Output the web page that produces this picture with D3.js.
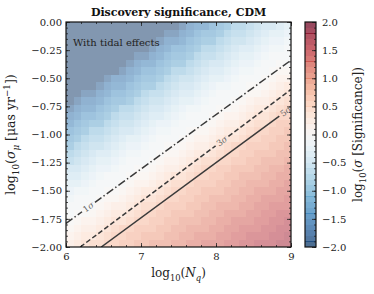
<!DOCTYPE html>
<html>
<head>
<meta charset="utf-8">
<script src="https://cdn.jsdelivr.net/npm/d3@7"></script>
<style>
  body { margin: 0; background: #fff; }
  svg { display: block; font-family: "DejaVu Serif", serif; }
</style>
</head>
<body>
<svg id="chart" width="374" height="294"></svg>
<script>
  // axes
  const nqExtent = [6, 9];
  const sigmaMuExtent = [-2, 0];
  const xTicks = [6, 7, 8, 9];
  const yTicks = [0, -0.25, -0.5, -0.75, -1, -1.25, -1.5, -1.75, -2];
  const cbarTicks = [2, 1.5, 1, 0.5, 0, -0.5, -1, -1.5, -2];
  const cbarExtent = [-2, 2];

  // log10(significance) on a 30 x 30 grid, top row (sigma_mu near 0) first,
  // columns from log10(Nq) = 6 to 9
  const significanceRows = [
    [-4.4,-4.1,-3.9,-3.6,-3.4,-3.4,-3.2,-3.0,-2.8,-2.8, -2.5,-2.4,-2.2,-2.0,-2.0,-1.8,-1.6,-1.5,-1.5,-1.3, -1.2,-1.1,-0.9,-0.9,-0.8,-0.7,-0.6,-0.6,-0.5,-0.4],
    [-4.1,-3.9,-3.6,-3.4,-3.2,-3.2,-3.0,-2.8,-2.5,-2.5, -2.4,-2.2,-2.0,-1.8,-1.8,-1.6,-1.5,-1.3,-1.2,-1.2, -1.1,-0.9,-0.8,-0.8,-0.7,-0.6,-0.5,-0.4,-0.4,-0.3],
    [-3.6,-3.6,-3.4,-3.2,-3.0,-3.0,-2.8,-2.5,-2.4,-2.2, -2.2,-2.0,-1.8,-1.6,-1.6,-1.5,-1.3,-1.2,-1.1,-1.1, -0.9,-0.8,-0.7,-0.7,-0.6,-0.5,-0.4,-0.3,-0.3,-0.2],
    [-3.4,-3.4,-3.2,-3.0,-2.8,-2.8,-2.5,-2.4,-2.2,-2.0, -2.0,-1.8,-1.6,-1.5,-1.3,-1.3,-1.2,-1.1,-0.9,-0.9, -0.8,-0.7,-0.6,-0.5,-0.5,-0.4,-0.3,-0.2,-0.2,-0.1],
    [-3.2,-3.2,-3.0,-2.8,-2.5,-2.4,-2.4,-2.2,-2.0,-1.8, -1.8,-1.6,-1.5,-1.3,-1.2,-1.2,-1.1,-0.9,-0.8,-0.8, -0.7,-0.6,-0.5,-0.4,-0.4,-0.3,-0.2,-0.1,-0.1,-0.1],
    [-3.0,-3.0,-2.8,-2.5,-2.4,-2.2,-2.2,-2.0,-1.8,-1.6, -1.5,-1.5,-1.3,-1.2,-1.1,-1.1,-0.9,-0.8,-0.7,-0.6, -0.6,-0.5,-0.4,-0.3,-0.3,-0.2,-0.1,-0.1, 0.0, 0.0],
    [-2.8,-2.5,-2.5,-2.4,-2.2,-2.0,-2.0,-1.8,-1.6,-1.5, -1.3,-1.3,-1.2,-1.1,-0.9,-0.9,-0.8,-0.7,-0.6,-0.5, -0.5,-0.4,-0.3,-0.2,-0.2,-0.1,-0.1, 0.0, 0.1, 0.1],
    [-2.5,-2.4,-2.4,-2.2,-2.0,-1.8,-1.6,-1.6,-1.5,-1.3, -1.2,-1.2,-1.1,-0.9,-0.8,-0.7,-0.7,-0.6,-0.5,-0.4, -0.4,-0.3,-0.2,-0.1,-0.1,-0.1, 0.0, 0.1, 0.2, 0.2],
    [-2.4,-2.2,-2.2,-2.0,-1.8,-1.6,-1.5,-1.5,-1.3,-1.2, -1.1,-1.1,-0.9,-0.8,-0.7,-0.6,-0.6,-0.5,-0.4,-0.3, -0.2,-0.2,-0.1,-0.1, 0.0, 0.0, 0.1, 0.2, 0.3, 0.4],
    [-2.2,-2.0,-1.8,-1.8,-1.6,-1.5,-1.3,-1.3,-1.2,-1.1, -0.9,-0.8,-0.8,-0.7,-0.6,-0.5,-0.5,-0.4,-0.3,-0.2, -0.1,-0.1,-0.1, 0.0, 0.1, 0.1, 0.2, 0.3, 0.4, 0.5],
    [-2.0,-1.8,-1.6,-1.6,-1.5,-1.3,-1.2,-1.2,-1.1,-0.9, -0.8,-0.7,-0.7,-0.6,-0.5,-0.4,-0.4,-0.3,-0.2,-0.1, -0.1,-0.1, 0.0, 0.1, 0.2, 0.3, 0.3, 0.4, 0.5, 0.6],
    [-1.8,-1.6,-1.5,-1.5,-1.3,-1.2,-1.1,-0.9,-0.9,-0.8, -0.7,-0.6,-0.6,-0.5,-0.4,-0.3,-0.2,-0.2,-0.1,-0.1,  0.0, 0.0, 0.1, 0.2, 0.3, 0.4, 0.4, 0.5, 0.6, 0.7],
    [-1.6,-1.5,-1.3,-1.3,-1.2,-1.1,-0.9,-0.8,-0.8,-0.7, -0.6,-0.5,-0.5,-0.4,-0.3,-0.2,-0.1,-0.1,-0.1, 0.0,  0.1, 0.2, 0.2, 0.3, 0.4, 0.5, 0.5, 0.6, 0.7, 0.7],
    [-1.5,-1.3,-1.2,-1.1,-1.1,-0.9,-0.8,-0.7,-0.7,-0.6, -0.5,-0.4,-0.3,-0.3,-0.2,-0.1,-0.1,-0.1, 0.0, 0.1,  0.2, 0.3, 0.3, 0.4, 0.5, 0.6, 0.6, 0.7, 0.8, 0.8],
    [-1.3,-1.2,-1.1,-0.9,-0.9,-0.8,-0.7,-0.6,-0.6,-0.5, -0.4,-0.3,-0.2,-0.2,-0.1,-0.1, 0.0, 0.1, 0.1, 0.2,  0.3, 0.4, 0.4, 0.5, 0.6, 0.7, 0.7, 0.8, 0.8, 0.9],
    [-1.2,-1.1,-0.9,-0.8,-0.8,-0.7,-0.6,-0.5,-0.4,-0.4, -0.3,-0.2,-0.1,-0.1,-0.1, 0.0, 0.1, 0.2, 0.2, 0.3,  0.4, 0.5, 0.5, 0.6, 0.7, 0.7, 0.8, 0.8, 0.9, 0.9],
    [-1.1,-0.9,-0.8,-0.7,-0.7,-0.6,-0.5,-0.4,-0.3,-0.3, -0.2,-0.1,-0.1, 0.0, 0.0, 0.1, 0.2, 0.3, 0.3, 0.4,  0.5, 0.6, 0.7, 0.7, 0.8, 0.8, 0.8, 0.9, 0.9, 1.0],
    [-0.9,-0.8,-0.7,-0.6,-0.5,-0.5,-0.4,-0.3,-0.2,-0.2, -0.1,-0.1, 0.0, 0.1, 0.1, 0.2, 0.3, 0.4, 0.4, 0.5,  0.6, 0.7, 0.7, 0.8, 0.8, 0.9, 0.9, 0.9, 1.0, 1.0],
    [-0.8,-0.7,-0.6,-0.5,-0.4,-0.4,-0.3,-0.2,-0.1,-0.1, -0.1, 0.0, 0.1, 0.2, 0.2, 0.3, 0.4, 0.5, 0.6, 0.6,  0.7, 0.7, 0.8, 0.8, 0.9, 0.9, 1.0, 1.0, 1.0, 1.1],
    [-0.6,-0.6,-0.5,-0.4,-0.3,-0.3,-0.2,-0.1,-0.1, 0.0,  0.0, 0.1, 0.2, 0.3, 0.3, 0.4, 0.5, 0.6, 0.7, 0.7,  0.8, 0.8, 0.9, 0.9, 0.9, 1.0, 1.0, 1.1, 1.1, 1.2],
    [-0.5,-0.5,-0.4,-0.3,-0.2,-0.1,-0.1,-0.1, 0.0, 0.1,  0.1, 0.2, 0.3, 0.4, 0.5, 0.5, 0.6, 0.7, 0.7, 0.8,  0.8, 0.9, 0.9, 1.0, 1.0, 1.0, 1.1, 1.1, 1.2, 1.2],
    [-0.4,-0.4,-0.3,-0.2,-0.1,-0.1,-0.1, 0.0, 0.1, 0.2,  0.2, 0.3, 0.4, 0.5, 0.6, 0.6, 0.7, 0.8, 0.8, 0.8,  0.9, 0.9, 1.0, 1.0, 1.1, 1.1, 1.1, 1.2, 1.2, 1.3],
    [-0.3,-0.2,-0.2,-0.1,-0.1, 0.0, 0.0, 0.1, 0.2, 0.3,  0.4, 0.4, 0.5, 0.6, 0.7, 0.7, 0.8, 0.8, 0.9, 0.9,  0.9, 1.0, 1.0, 1.1, 1.1, 1.2, 1.2, 1.2, 1.3, 1.3],
    [-0.2,-0.1,-0.1,-0.1, 0.0, 0.1, 0.1, 0.2, 0.3, 0.4,  0.5, 0.5, 0.6, 0.7, 0.7, 0.8, 0.8, 0.9, 0.9, 1.0,  1.0, 1.0, 1.1, 1.1, 1.2, 1.2, 1.3, 1.3, 1.3, 1.4],
    [-0.1,-0.1,-0.1, 0.0, 0.1, 0.2, 0.3, 0.3, 0.4, 0.5,  0.6, 0.6, 0.7, 0.8, 0.8, 0.8, 0.9, 0.9, 1.0, 1.0,  1.1, 1.1, 1.1, 1.2, 1.2, 1.3, 1.3, 1.4, 1.4, 1.4],
    [-0.1, 0.0, 0.0, 0.1, 0.2, 0.3, 0.4, 0.4, 0.5, 0.6,  0.7, 0.7, 0.8, 0.8, 0.9, 0.9, 0.9, 1.0, 1.0, 1.1,  1.1, 1.2, 1.2, 1.2, 1.3, 1.3, 1.4, 1.4, 1.5, 1.5],
    [ 0.0, 0.1, 0.2, 0.2, 0.3, 0.4, 0.5, 0.5, 0.6, 0.7,  0.7, 0.8, 0.8, 0.9, 0.9, 1.0, 1.0, 1.0, 1.1, 1.1,  1.2, 1.2, 1.3, 1.3, 1.3, 1.4, 1.4, 1.5, 1.5, 1.6],
    [ 0.1, 0.2, 0.3, 0.3, 0.4, 0.5, 0.6, 0.7, 0.7, 0.8,  0.8, 0.8, 0.9, 0.9, 1.0, 1.0, 1.1, 1.1, 1.1, 1.2,  1.2, 1.3, 1.3, 1.4, 1.4, 1.4, 1.5, 1.5, 1.6, 1.6],
    [ 0.2, 0.3, 0.4, 0.4, 0.5, 0.6, 0.7, 0.7, 0.8, 0.8,  0.9, 0.9, 0.9, 1.0, 1.0, 1.1, 1.1, 1.2, 1.2, 1.2,  1.3, 1.3, 1.4, 1.4, 1.5, 1.5, 1.5, 1.6, 1.6, 1.7],
    [ 0.3, 0.4, 0.5, 0.6, 0.6, 0.7, 0.7, 0.8, 0.8, 0.9,  0.9, 1.0, 1.0, 1.0, 1.1, 1.1, 1.2, 1.2, 1.3, 1.3,  1.3, 1.4, 1.4, 1.5, 1.5, 1.6, 1.6, 1.6, 1.7, 1.7]
  ];

  // contour lines: endpoints in (log10 Nq, log10 sigma_mu), label position along log10 Nq
  const contours = [
    { label: '1', dash: '8,2.5,1.5,2.5', points: [[6, -1.79], [9, -0.34]], labelAt: 6.3 },
    { label: '3', dash: '5,2.5', points: [[6.19, -2], [9, -0.6]], labelAt: 8.08 },
    { label: '5', dash: null, points: [[6.47, -2], [9, -0.76]], labelAt: 8.93 }
  ];

  const plot = { left: 66, right: 291, top: 22, bottom: 247 };
  const cbar = { left: 305, right: 316 };

  const svg = d3.select('#chart');
  const x = d3.scaleLinear().domain(nqExtent).range([plot.left, plot.right]);
  const y = d3.scaleLinear().domain(sigmaMuExtent).range([plot.bottom, plot.top]);
  const cy = d3.scaleLinear().domain(cbarExtent).range([plot.bottom, plot.top]);
  const colorOf = v => d3.interpolateRdBu(1 - (Math.max(-2, Math.min(2, v)) + 2) / 4);

  svg.append('clipPath').attr('id', 'clip')
    .append('rect')
    .attr('x', plot.left).attr('y', plot.top)
    .attr('width', plot.right - plot.left).attr('height', plot.bottom - plot.top);

  // heatmap cells
  const nRows = significanceRows.length;
  const nCols = significanceRows[0].length;
  const dN = (nqExtent[1] - nqExtent[0]) / nCols;
  const dS = (sigmaMuExtent[1] - sigmaMuExtent[0]) / nRows;
  const cells = [];
  significanceRows.forEach((row, r) => row.forEach((v, c) => cells.push({ r, c, v })));

  svg.append('g').attr('clip-path', 'url(#clip)')
    .selectAll('rect')
    .data(cells)
    .enter().append('rect')
    .attr('x', d => x(nqExtent[0] + d.c * dN))
    .attr('y', d => y(sigmaMuExtent[1] - d.r * dS))
    .attr('width', d => x(nqExtent[0] + (d.c + 1) * dN) - x(nqExtent[0] + d.c * dN) + 0.4)
    .attr('height', d => y(sigmaMuExtent[1] - (d.r + 1) * dS) - y(sigmaMuExtent[1] - d.r * dS) + 0.4)
    .attr('fill', d => colorOf(d.v))
    .attr('fill-opacity', 0.5)
    .attr('shape-rendering', 'crispEdges');

  // contours with inline labels
  const lines = svg.append('g').attr('clip-path', 'url(#clip)');
  const labels = svg.append('g');
  contours.forEach(ct => {
    const p0 = [x(ct.points[0][0]), y(ct.points[0][1])];
    const p1 = [x(ct.points[1][0]), y(ct.points[1][1])];
    const len = Math.hypot(p1[0] - p0[0], p1[1] - p0[1]);
    const u = [(p1[0] - p0[0]) / len, (p1[1] - p0[1]) / len];
    const t = (ct.labelAt - ct.points[0][0]) / (ct.points[1][0] - ct.points[0][0]) * len;
    const gap = 8;
    const segs = [[0, t - gap], [t + gap, len]].filter(s => s[1] > s[0]);
    segs.forEach(s => {
      lines.append('line')
        .attr('x1', p0[0] + u[0] * s[0]).attr('y1', p0[1] + u[1] * s[0])
        .attr('x2', p0[0] + u[0] * s[1]).attr('y2', p0[1] + u[1] * s[1])
        .attr('stroke', '#3a3a3a')
        .attr('stroke-width', 1.5)
        .attr('stroke-dasharray', ct.dash);
    });
    const cx = p0[0] + u[0] * t, cyy = p0[1] + u[1] * t;
    const ang = Math.atan2(u[1], u[0]) * 180 / Math.PI;
    const txt = labels.append('text')
      .attr('transform', `translate(${cx},${cyy}) rotate(${ang})`)
      .attr('text-anchor', 'middle')
      .attr('dy', '0.33em')
      .attr('font-size', 8.5)
      .attr('fill', '#666');
    txt.append('tspan').text(ct.label);
    txt.append('tspan').attr('font-style', 'italic').text('σ');
  });

  // axes (ticks inward on all sides)
  const xMinor = d3.range(6, 9.001, 0.2);
  const yMinor = d3.range(-2, 0.001, 0.05);

  svg.append('g').attr('transform', `translate(0,${plot.bottom})`)
    .call(d3.axisBottom(x).tickValues(xTicks).tickFormat(d3.format('d')).tickSize(-4).tickSizeOuter(0).tickPadding(6));
  svg.append('g').attr('transform', `translate(0,${plot.bottom})`)
    .call(d3.axisBottom(x).tickValues(xMinor).tickFormat('').tickSize(-2).tickSizeOuter(0));
  svg.append('g').attr('transform', `translate(0,${plot.top})`)
    .call(d3.axisTop(x).tickValues(xTicks).tickFormat('').tickSize(-4).tickSizeOuter(0));
  svg.append('g').attr('transform', `translate(0,${plot.top})`)
    .call(d3.axisTop(x).tickValues(xMinor).tickFormat('').tickSize(-2).tickSizeOuter(0));

  svg.append('g').attr('transform', `translate(${plot.left},0)`)
    .call(d3.axisLeft(y).tickValues(yTicks).tickFormat(d3.format('.2f')).tickSize(-4).tickSizeOuter(0).tickPadding(4));
  svg.append('g').attr('transform', `translate(${plot.left},0)`)
    .call(d3.axisLeft(y).tickValues(yMinor).tickFormat('').tickSize(-2).tickSizeOuter(0));
  svg.append('g').attr('transform', `translate(${plot.right},0)`)
    .call(d3.axisRight(y).tickValues(yTicks).tickFormat('').tickSize(-4).tickSizeOuter(0));
  svg.append('g').attr('transform', `translate(${plot.right},0)`)
    .call(d3.axisRight(y).tickValues(yMinor).tickFormat('').tickSize(-2).tickSizeOuter(0));

  svg.selectAll('.domain').remove();
  svg.selectAll('.tick line').attr('stroke', '#222').attr('stroke-width', 0.8);
  svg.selectAll('.tick text')
    .attr('font-family', '"DejaVu Serif", serif')
    .attr('font-size', 10)
    .attr('fill', '#222');

  svg.append('rect')
    .attr('x', plot.left).attr('y', plot.top)
    .attr('width', plot.right - plot.left).attr('height', plot.bottom - plot.top)
    .attr('fill', 'none').attr('stroke', '#111').attr('stroke-width', 1.2);

  // colorbar
  const cbarLevels = d3.range(-2, 2, 0.1);
  svg.append('g').selectAll('rect')
    .data(cbarLevels)
    .enter().append('rect')
    .attr('x', cbar.left)
    .attr('y', d => cy(d + 0.1))
    .attr('width', cbar.right - cbar.left)
    .attr('height', d => cy(d) - cy(d + 0.1) + 0.3)
    .attr('fill', d => colorOf(d + 0.05))
    .attr('fill-opacity', 0.72)
    .attr('shape-rendering', 'crispEdges');

  svg.append('g').attr('transform', `translate(${cbar.right},0)`)
    .call(d3.axisRight(cy).tickValues(cbarTicks).tickFormat(d3.format('.1f')).tickSize(-4).tickSizeOuter(0).tickPadding(6))
    .call(g => g.select('.domain').remove())
    .call(g => g.selectAll('.tick line').attr('stroke', '#222').attr('stroke-width', 0.8))
    .call(g => g.selectAll('.tick text').attr('font-family', '"DejaVu Serif", serif').attr('font-size', 10).attr('fill', '#222'));
  svg.append('g').attr('transform', `translate(${cbar.right},0)`)
    .call(d3.axisRight(cy).tickValues(d3.range(-2, 2.001, 0.1)).tickFormat('').tickSize(-2).tickSizeOuter(0))
    .call(g => g.select('.domain').remove())
    .call(g => g.selectAll('.tick line').attr('stroke', '#222').attr('stroke-width', 0.8));

  svg.append('rect')
    .attr('x', cbar.left).attr('y', plot.top)
    .attr('width', cbar.right - cbar.left).attr('height', plot.bottom - plot.top)
    .attr('fill', 'none').attr('stroke', '#111').attr('stroke-width', 1.2);

  // text with sub/superscripts
  function rich(text, parts, size) {
    let shift = 0;
    parts.forEach(p => {
      const target = p.sub ? 0.3 * size : p.sup ? -0.4 * size : 0;
      const ts = text.append('tspan')
        .attr('dy', target - shift)
        .attr('font-size', p.sub || p.sup ? size * 0.7 : size)
        .text(p.t);
      if (p.it) ts.attr('font-style', 'italic');
      shift = target;
    });
  }

  svg.append('text')
    .attr('x', (plot.left + plot.right) / 2).attr('y', 16)
    .attr('text-anchor', 'middle')
    .attr('font-size', 11).attr('font-weight', 'bold').attr('fill', '#111')
    .text('Discovery significance, CDM');

  svg.append('text')
    .attr('x', 73).attr('y', 46)
    .attr('font-size', 10).attr('fill', '#222')
    .text('With tidal effects');

  rich(svg.append('text')
      .attr('x', (plot.left + plot.right) / 2).attr('y', 277)
      .attr('text-anchor', 'middle').attr('fill', '#222'),
    [{ t: 'log' }, { t: '10', sub: true }, { t: '(' }, { t: 'N', it: true }, { t: 'q', sub: true, it: true }, { t: ')' }], 12);

  rich(svg.append('text')
      .attr('transform', `translate(15,${(plot.top + plot.bottom) / 2}) rotate(-90)`)
      .attr('text-anchor', 'middle').attr('fill', '#222'),
    [{ t: 'log' }, { t: '10', sub: true }, { t: '(' }, { t: 'σ', it: true }, { t: 'μ', sub: true, it: true },
     { t: ' [μas yr' }, { t: '−1', sup: true }, { t: '])' }], 12.5);

  rich(svg.append('text')
      .attr('transform', `translate(362,${(plot.top + plot.bottom) / 2}) rotate(-90)`)
      .attr('text-anchor', 'middle').attr('fill', '#222'),
    [{ t: 'log' }, { t: '10', sub: true }, { t: '(' }, { t: 'σ', it: true }, { t: ' [Significance])' }], 12);
</script>
</body>
</html>
